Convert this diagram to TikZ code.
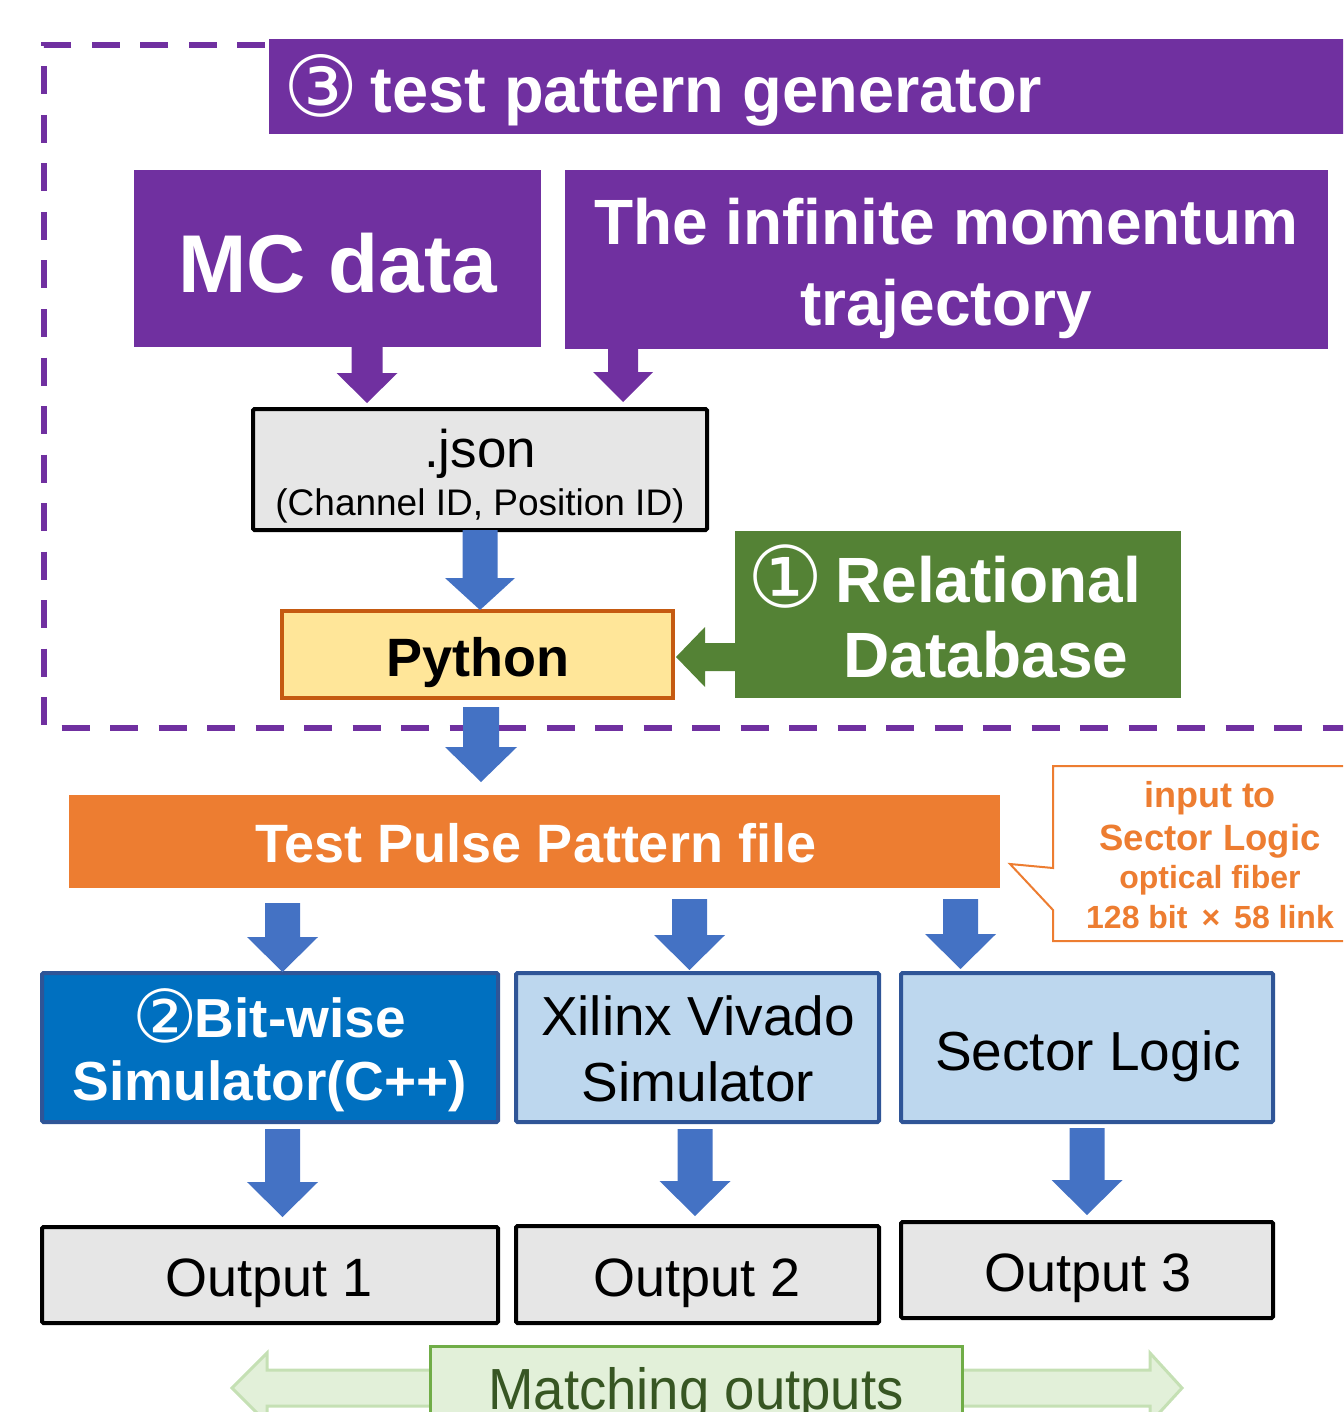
\documentclass[tikz,border=0pt]{standalone}
\usepackage{fontspec}
\setmainfont{Liberation Sans}
\newfontfamily\circfont{DejaVu Sans}
\usepackage{graphicx}
\usetikzlibrary{calc}

\definecolor{tpgpurple}{HTML}{7030A0}
\definecolor{dbgreen}{HTML}{548235}
\definecolor{tpporange}{HTML}{ED7D31}
\definecolor{flowblue}{HTML}{4472C4}
\definecolor{pyfill}{HTML}{FFE699}
\definecolor{pyborder}{HTML}{C55A11}
\definecolor{simblue}{HTML}{0070C0}
\definecolor{boxedge}{HTML}{2F5597}
\definecolor{paleblue}{HTML}{BDD7EE}
\definecolor{panelgray}{HTML}{E6E6E6}
\definecolor{matchfill}{HTML}{E2F0D9}
\definecolor{matchedge}{HTML}{70AD47}
\definecolor{matcharrow}{HTML}{C5E0B4}
\definecolor{matchtext}{HTML}{375623}

% font size in picture units
\newcommand{\fs}[1]{\fontsize{#1}{#1}\selectfont}
% circled digit: #1 size, #2 drop below the baseline, #3 glyph
\newcommand{\circled}[3]{\raisebox{-#2pt}{\circfont\mdseries\fontsize{#1}{#1}\selectfont #3}}

% downward block arrow: #1 start point (gives x and top), #2 point giving the tip height,
% #3 shaft half width, #4 head half width, #5 head length, #6 colour
\newcommand{\vblock}[6]{%
  \fill[#6] let \p1=(#1), \p2=(#2) in
    (\x1-#3,\y1) -- (\x1+#3,\y1) -- (\x1+#3,\y2+#5) -- (\x1+#4,\y2+#5)
    -- (\x1,\y2) -- (\x1-#4,\y2+#5) -- (\x1-#3,\y2+#5) -- cycle;}
% leftward block arrow: #1 start point (gives y and right end), #2 tip point (gives x)
\newcommand{\hblock}[6]{%
  \fill[#6] let \p1=(#1), \p2=(#2) in
    (\x1,\y1+#3) -- (\x2+#5,\y1+#3) -- (\x2+#5,\y1+#4) -- (\x2,\y1)
    -- (\x2+#5,\y1-#4) -- (\x2+#5,\y1-#3) -- (\x1,\y1-#3) -- cycle;}

\tikzset{
  box/.style={inner sep=0pt, outer sep=0pt},
  purplebox/.style={box, fill=tpgpurple},
  graybox/.style={box, fill=panelgray, draw=black, line width=4, rounded corners=1.5},
  simbox/.style={box, draw=boxedge, line width=4, rounded corners=1.5},
  whitebold/.style={text=white, font=\bfseries#1, anchor=base, inner sep=0pt},
  plain/.style={text=black, font=#1, anchor=base, inner sep=0pt},
  calltext/.style={text=tpporange, font=\bfseries#1, anchor=base, inner sep=0pt},
}

\begin{document}
\begin{tikzpicture}[x=1pt, y=-1pt]
\useasboundingbox (0,0) rectangle (1343,1412);
\clip (0,0) rectangle (1343,1412);

% ---- test pattern generator frame ----
\draw[tpgpurple, line width=6, dash pattern=on 28 off 20.5]
  (265,45) -- (44,45) -- (44,728) -- (1370,728);
\node[purplebox, minimum width=1120, minimum height=95, anchor=north west] (title) at (269,39) {};
\node[whitebold=\fs{65}, anchor=base west] (titletext) at (283,113)
  {\circled{84}{4}{③}\hspace{12pt}test pattern generator};

% ---- sources ----
\node[purplebox, minimum width=407, minimum height=177] (mc) at (337.5,258.5) {};
\node[whitebold=\fs{82}] (mctext) at (338,293) {MC data};
\node[purplebox, minimum width=763, minimum height=179] (inf) at (946.5,259.5) {};
\node[whitebold=\fs{64}] (inftext1) at (946,245) {The infinite momentum};
\node[whitebold=\fs{64}] (inftext2) at (946,325) {trajectory};

\node[graybox, minimum width=454, minimum height=121] (json) at (480,469.5) {};
\node[plain=\fs{53}] (jsontext) at (480,467) {.json};
\node[plain=\fs{37}] (jsonsub) at (480,515) {(Channel ID, Position ID)};

\node[box, fill=pyfill, draw=pyborder, line width=3.5, minimum width=391, minimum height=87] (python) at (477.5,654.5) {};
\node[plain=\bfseries\fs{54}] (pytext) at (478,676) {Python};

\node[box, fill=dbgreen, minimum width=446, minimum height=167] (rdb) at (958,614.5) {};
\node[whitebold=\fs{64}, anchor=base west] (rdbtext1) at (747,602) {\circled{85}{5.5}{①}\hspace{12pt}Relational};
\node[whitebold=\fs{64}] (rdbtext2) at (986,677) {Database};

% ---- connectors inside the frame ----
\vblock{$(mc.south)+(29.5,0)$}{$(json.north)+(0,-6)$}{15.5pt}{30.5pt}{30pt}{tpgpurple}
\vblock{$(inf.south west)+(58,0)$}{$(json.north)+(0,-7)$}{15pt}{30pt}{30pt}{tpgpurple}
\vblock{json.south}{$(python.north)+(0,-1)$}{17.5pt}{35pt}{32pt}{flowblue}
\hblock{$(rdb.west |- python.east)+(0,2.5)$}{$(python.east)+(3,0)$}{14pt}{30pt}{29pt}{dbgreen}

% ---- test pulse pattern file ----
\node[box, fill=tpporange, minimum width=931, minimum height=93] (tpp) at (534.5,841.5) {};
\node[whitebold=\fs{54}] (tpptext) at (536,862) {Test Pulse Pattern file};
\vblock{$(python.south)+(3.5,9)$}{$(tpp.north)+(0,-13)$}{18pt}{36pt}{35pt}{flowblue}

% callout on the optical fibre input
\draw[tpporange, line width=2, fill=white]
  (1053,766) -- (1370,766) -- (1370,941) -- (1053,941) -- (1053,910)
  -- (1010,864) -- (1053,868) -- cycle;
\node[calltext=\fs{36}] (call1) at (1210,807) {input to};
\node[calltext=\fs{36.5}] (call2) at (1210,850) {Sector Logic};
\node[calltext=\fs{32}] (call3) at (1210,888) {optical fiber};
\node[calltext=\fs{32}] (call4) at (1210,928) {128 bit\hspace{14pt}\texttimes\hspace{14pt}58 link};

% ---- simulators and hardware ----
\node[simbox, fill=simblue, minimum width=456, minimum height=149] (bitwise) at (270,1047.5) {};
\node[whitebold=\fs{55}] (bwtext1) at (269,1037) {\circled{73}{5}{②}\hspace{-3pt}Bit-wise};
\node[whitebold=\fs{55}] (bwtext2) at (270,1100) {Simulator(C++)};

\node[simbox, fill=paleblue, minimum width=363, minimum height=149] (vivado) at (697.5,1047.5) {};
\node[plain=\fs{55}] (vvtext1) at (698,1035) {Xilinx Vivado};
\node[plain=\fs{55}] (vvtext2) at (698,1101) {Simulator};

\node[simbox, fill=paleblue, minimum width=372, minimum height=149] (sector) at (1087,1047.5) {};
\node[plain=\fs{55}] (sltext) at (1088,1070) {Sector Logic};

\vblock{$(tpp.south -| bitwise.north)+(12.5,15)$}{$(bitwise.north)+(0,-1)$}{17.5pt}{35.5pt}{35pt}{flowblue}
\vblock{$(tpp.south -| vivado.north)+(-8,11)$}{$(vivado.north)+(0,-3)$}{17.5pt}{35.5pt}{35pt}{flowblue}
\vblock{$(tpp.south -| sector.north)+(-126.5,11)$}{$(sector.north)+(0,-4)$}{17.5pt}{35.5pt}{35pt}{flowblue}

% ---- outputs ----
\node[graybox, minimum width=456, minimum height=96] (out1) at (270,1275) {};
\node[plain=\fs{54}] (o1text) at (269,1296) {Output 1};
\node[graybox, minimum width=363, minimum height=97] (out2) at (697.5,1274.5) {};
\node[plain=\fs{54}] (o2text) at (697,1296) {Output 2};
\node[graybox, minimum width=372, minimum height=96] (out3) at (1087,1270) {};
\node[plain=\fs{54}] (o3text) at (1088,1291) {Output 3};

\vblock{$(bitwise.south)+(12.5,7)$}{$(out1.north)+(0,-10)$}{17.5pt}{35.5pt}{35pt}{flowblue}
\vblock{$(vivado.south)+(-2.5,7)$}{$(out2.north)+(0,-10)$}{17.5pt}{35.5pt}{35pt}{flowblue}
\vblock{$(sector.south)+(0,6)$}{$(out3.north)+(0,-7)$}{17.5pt}{35.5pt}{35pt}{flowblue}

% ---- comparison of the three outputs ----
\draw[matcharrow, fill=matchfill, line width=3]
  (232,1388) -- (267,1353) -- (267,1370) -- (1150,1370) -- (1150,1353)
  -- (1182,1388) -- (1150,1423) -- (1150,1406) -- (267,1406) -- (267,1423) -- cycle;
\node[box, fill=matchfill, draw=matchedge, line width=3, minimum width=532, minimum height=100, anchor=north] (match) at (696,1346) {};
\node[plain=\fs{58}, text=matchtext] (matchtext) at (696,1409) {\scalebox{0.94}[1]{Matching outputs}};
\end{tikzpicture}
\end{document}
